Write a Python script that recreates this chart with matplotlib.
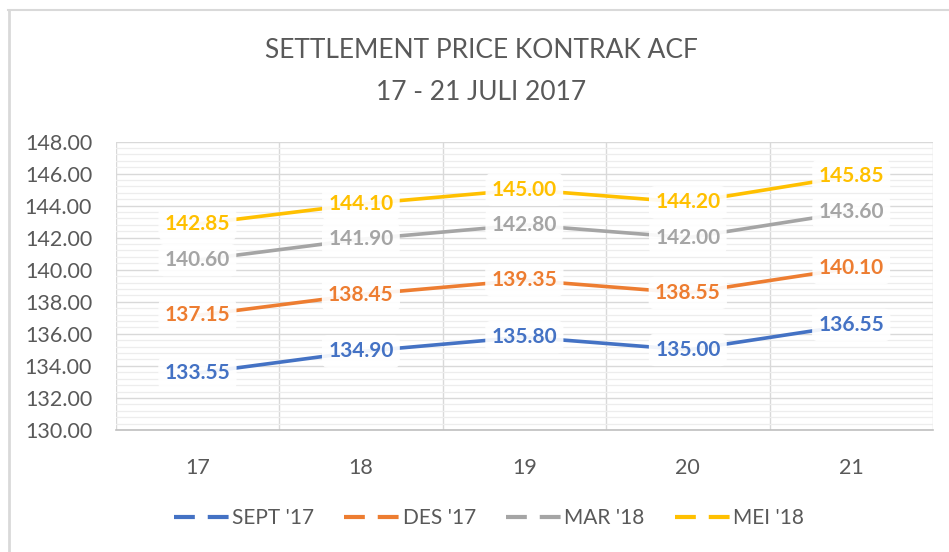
import matplotlib
matplotlib.use("Agg")
import matplotlib.pyplot as plt
from matplotlib.lines import Line2D
import numpy as np

days = ["17", "18", "19", "20", "21"]
series_names = ["SEPT '17", "DES '17", "MAR '18", "MEI '18"]
sept17 = [133.55, 134.90, 135.80, 135.00, 136.55]
des17 = [137.15, 138.45, 139.35, 138.55, 140.10]
mar18 = [140.60, 141.90, 142.80, 142.00, 143.60]
mei18 = [142.85, 144.10, 145.00, 144.20, 145.85]
colors = ["#4472C4", "#ED7D31", "#A5A5A5", "#FFC000"]

plt.rcParams['font.family'] = ['Lato', 'DejaVu Sans']
TXT = "#595959"

fig = plt.figure(figsize=(9.49, 5.52), dpi=100)
ax = fig.add_axes([115.7/949, 1-430/552, (933-115.7)/949, (430-141.5)/552])

x = np.arange(len(days))
all_series = [sept17, des17, mar18, mei18]
for vals, name, c in zip(all_series, series_names, colors):
    ax.plot(x, vals, color=c, lw=2.6, solid_capstyle='round', zorder=3, label=name)
    for xi, v in zip(x, vals):
        ax.text(xi, v, f"{v:.2f}", color=c, fontsize=15, fontweight='bold',
                ha='center', va='center', zorder=4,
                bbox=dict(boxstyle='round,pad=0.3', fc='white', ec='none', alpha=0.92))

ax.set_xlim(-0.5, len(days) - 0.5)
ax.set_ylim(130, 148)
ax.set_xticks(x)
ax.set_xticklabels(days)
ax.set_xticks(np.arange(-0.5, len(days)), minor=True)
ax.set_yticks(np.arange(130, 148.01, 2))
ax.set_yticklabels([f"{v:.2f}" for v in np.arange(130, 148.01, 2)])
ax.set_yticks(np.arange(130, 148.01, 0.4), minor=True)

ax.grid(which='minor', axis='y', color='#EDEDED', lw=0.9, zorder=0)
ax.grid(which='major', axis='y', color='#D9D9D9', lw=1.0, zorder=1)
ax.grid(which='minor', axis='x', color='#D9D9D9', lw=1.0, zorder=1)
ax.set_axisbelow(True)

for s in ['left', 'right', 'top']:
    ax.spines[s].set_visible(False)
ax.spines['bottom'].set_color('#BFBFBF')
ax.spines['bottom'].set_linewidth(1.2)

ax.tick_params(axis='both', which='both', length=0, colors=TXT, labelsize=15.5)
ax.tick_params(axis='y', pad=17)
ax.tick_params(axis='x', pad=20)

fig.text(0.507, 1-50/552, "SETTLEMENT PRICE KONTRAK ACF", ha='center', va='center',
         fontsize=19, color=TXT)
fig.text(0.507, 1-92/552, "17 - 21 JULI 2017", ha='center', va='center',
         fontsize=19, color=TXT)

handles = [Line2D([0], [0], color=c, lw=3, dashes=(5, 3.1)) for c in colors]
fig.legend(handles, series_names, loc='center', bbox_to_anchor=(0.515, 1-518/552),
           ncol=4, frameon=False, fontsize=15, labelcolor=TXT, handlelength=2.64,
           columnspacing=1.45, handletextpad=0.15)

# chart border (top and left edges)
fig.add_artist(Line2D([8/949, 1], [1-10/552, 1-10/552], color='#D9D9D9', lw=1.5,
                      transform=fig.transFigure))
fig.add_artist(Line2D([9/949, 9/949], [0, 1-10/552], color='#D9D9D9', lw=2,
                      transform=fig.transFigure))

fig.savefig("out.png", dpi=100)
